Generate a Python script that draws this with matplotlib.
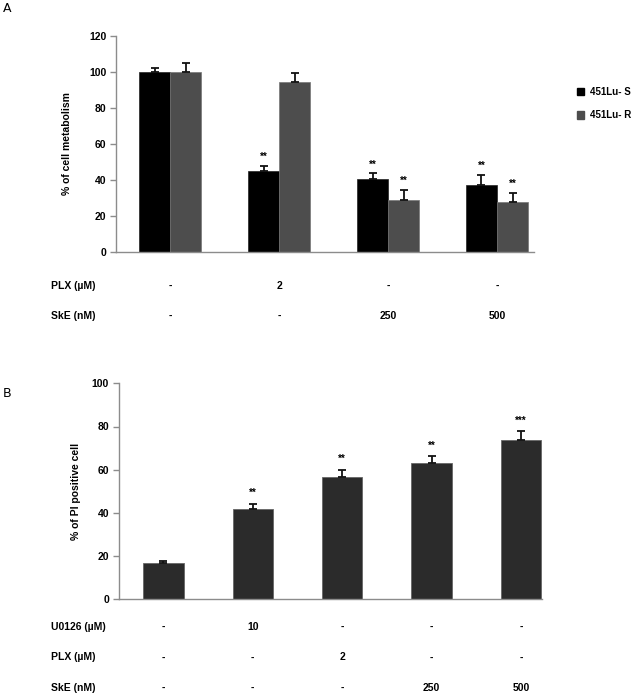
import numpy as np
import matplotlib
matplotlib.use("Agg")
import matplotlib.pyplot as plt
import matplotlib.transforms as mtransforms
from matplotlib.patches import Patch

plt.rcParams['font.family'] = ['Liberation Sans', 'DejaVu Sans']
plt.rcParams['font.weight'] = 'bold'

# panel A data
a_series = ['451Lu- S', '451Lu- R']
a_s_vals = [100, 44.8, 40.2, 37.2]
a_s_err = [2.3, 3.0, 3.3, 5.6]
a_r_vals = [100, 94.1, 28.5, 27.6]
a_r_err = [4.6, 5.4, 5.9, 5.2]
a_s_stars = ['', '**', '**', '**']
a_r_stars = ['', '', '**', '**']
a_rows = ['PLX (µM)', 'SkE (nM)']
a_table = [['-', '2', '-', '-'],
           ['-', '-', '250', '500']]

# panel B data
b_vals = [16.7, 41.8, 56.8, 63.0, 73.9]
b_err = [1.0, 2.5, 3.2, 3.3, 4.0]
b_stars = ['', '**', '**', '**', '***']
b_rows = ['U0126 (µM)', 'PLX (µM)', 'SkE (nM)']
b_table = [['-', '10', '-', '-', '-'],
           ['-', '-', '2', '-', '-'],
           ['-', '-', '-', '250', '500']]

W, H = 635, 694
fig = plt.figure(figsize=(W / 100, H / 100), dpi=100)

axis_col = '#8c8c8c'
fs = 7.5


def style(ax):
    for s in ['top', 'right']:
        ax.spines[s].set_visible(False)
    for s in ['left', 'bottom']:
        ax.spines[s].set_color(axis_col)
        ax.spines[s].set_linewidth(1.0)
    ax.tick_params(axis='y', colors=axis_col, length=4, width=1, labelsize=fs,
                   labelcolor='black', pad=3)
    ax.tick_params(axis='x', length=0, labelbottom=False)
    for t in ax.get_yticklabels():
        t.set_fontweight('bold')


# ---------- Panel A ----------
axA = fig.add_axes([116 / W, 1 - 251.7 / H, (534 - 116) / W, (251.7 - 35.7) / H])
x = np.arange(len(a_s_vals))
bw = 0.285
axA.bar(x - bw / 2, a_s_vals, bw, color='#000000', edgecolor='#222222', linewidth=0.5, zorder=2)
axA.bar(x + bw / 2, a_r_vals, bw, color='#4d4d4d', edgecolor='#777777', linewidth=0.5, zorder=2)
axA.errorbar(x - bw / 2, a_s_vals, yerr=[np.zeros(4), a_s_err], fmt='none', ecolor='#111111',
             elinewidth=1.3, capsize=3, capthick=1.3, zorder=3)
axA.errorbar(x + bw / 2, a_r_vals, yerr=[np.zeros(4), a_r_err], fmt='none', ecolor='#111111',
             elinewidth=1.3, capsize=3, capthick=1.3, zorder=3)
for i in range(len(x)):
    if a_s_stars[i]:
        axA.annotate(a_s_stars[i], (x[i] - bw / 2, a_s_vals[i] + a_s_err[i]), xytext=(0, 2.5),
                     textcoords='offset points', ha='center', va='bottom', fontsize=7)
    if a_r_stars[i]:
        axA.annotate(a_r_stars[i], (x[i] + bw / 2, a_r_vals[i] + a_r_err[i]), xytext=(0, 2.5),
                     textcoords='offset points', ha='center', va='bottom', fontsize=7)
axA.set_xlim(-0.5, 3.34)
axA.set_ylim(0, 120)
axA.set_yticks(range(0, 121, 20))
style(axA)
axA.set_ylabel('% of cell metabolism', fontsize=fs, fontweight='bold', labelpad=12)

trA = mtransforms.blended_transform_factory(axA.transData, fig.transFigure)
for r, (lab, row) in enumerate(zip(a_rows, a_table)):
    yy = 1 - (285.7 + 30.5 * r) / H
    fig.text(50.6 / W, yy, lab, fontsize=fs, fontweight='bold', va='center', ha='left')
    for i, v in enumerate(row):
        fig.text(x[i], yy, v, transform=trA, fontsize=fs, fontweight='bold',
                 va='center', ha='center')

handles = [Patch(facecolor='#000000', edgecolor='#000000'),
           Patch(facecolor='#4d4d4d', edgecolor='#4d4d4d')]
fig.legend(handles, a_series, loc='upper left', bbox_to_anchor=(568 / W, 1 - 78 / H),
           frameon=False, handlelength=0.75, handleheight=0.85,
           handletextpad=0.6, labelspacing=1.4, prop={'weight': 'bold', 'size': 7})

fig.text(3 / W, 1 - 8 / H, 'A', fontsize=9, fontweight='normal', va='center', ha='left',
         family='DejaVu Sans')

# ---------- Panel B ----------
axB = fig.add_axes([118.7 / W, 1 - 599.3 / H, (542 - 118.7) / W, (599.3 - 383.3) / H])
xb = np.arange(len(b_vals))
bwb = 0.45
axB.bar(xb, b_vals, bwb, color='#2b2b2b', edgecolor='#666666', linewidth=0.6, zorder=2)
axB.errorbar(xb, b_vals, yerr=[np.zeros(len(b_vals)), b_err], fmt='none', ecolor='#111111',
             elinewidth=1.3, capsize=3, capthick=1.3, zorder=3)
for i in range(len(xb)):
    if b_stars[i]:
        axB.annotate(b_stars[i], (xb[i], b_vals[i] + b_err[i]), xytext=(0, 4),
                     textcoords='offset points', ha='center', va='bottom', fontsize=7)
axB.set_xlim(-0.5, 4.235)
axB.set_ylim(0, 100)
axB.set_yticks(range(0, 101, 20))
style(axB)
axB.set_ylabel('% of PI positive cell', fontsize=fs, fontweight='bold', labelpad=8)

trB = mtransforms.blended_transform_factory(axB.transData, fig.transFigure)
for r, (lab, row) in enumerate(zip(b_rows, b_table)):
    yy = 1 - (627 + 30.4 * r) / H
    fig.text(50.6 / W, yy, lab, fontsize=fs, fontweight='bold', va='center', ha='left')
    for i, v in enumerate(row):
        fig.text(xb[i], yy, v, transform=trB, fontsize=fs, fontweight='bold',
                 va='center', ha='center')

fig.text(3 / W, 1 - 393 / H, 'B', fontsize=9, fontweight='normal', va='center', ha='left',
         family='DejaVu Sans')

fig.savefig('out.png', dpi=100)
